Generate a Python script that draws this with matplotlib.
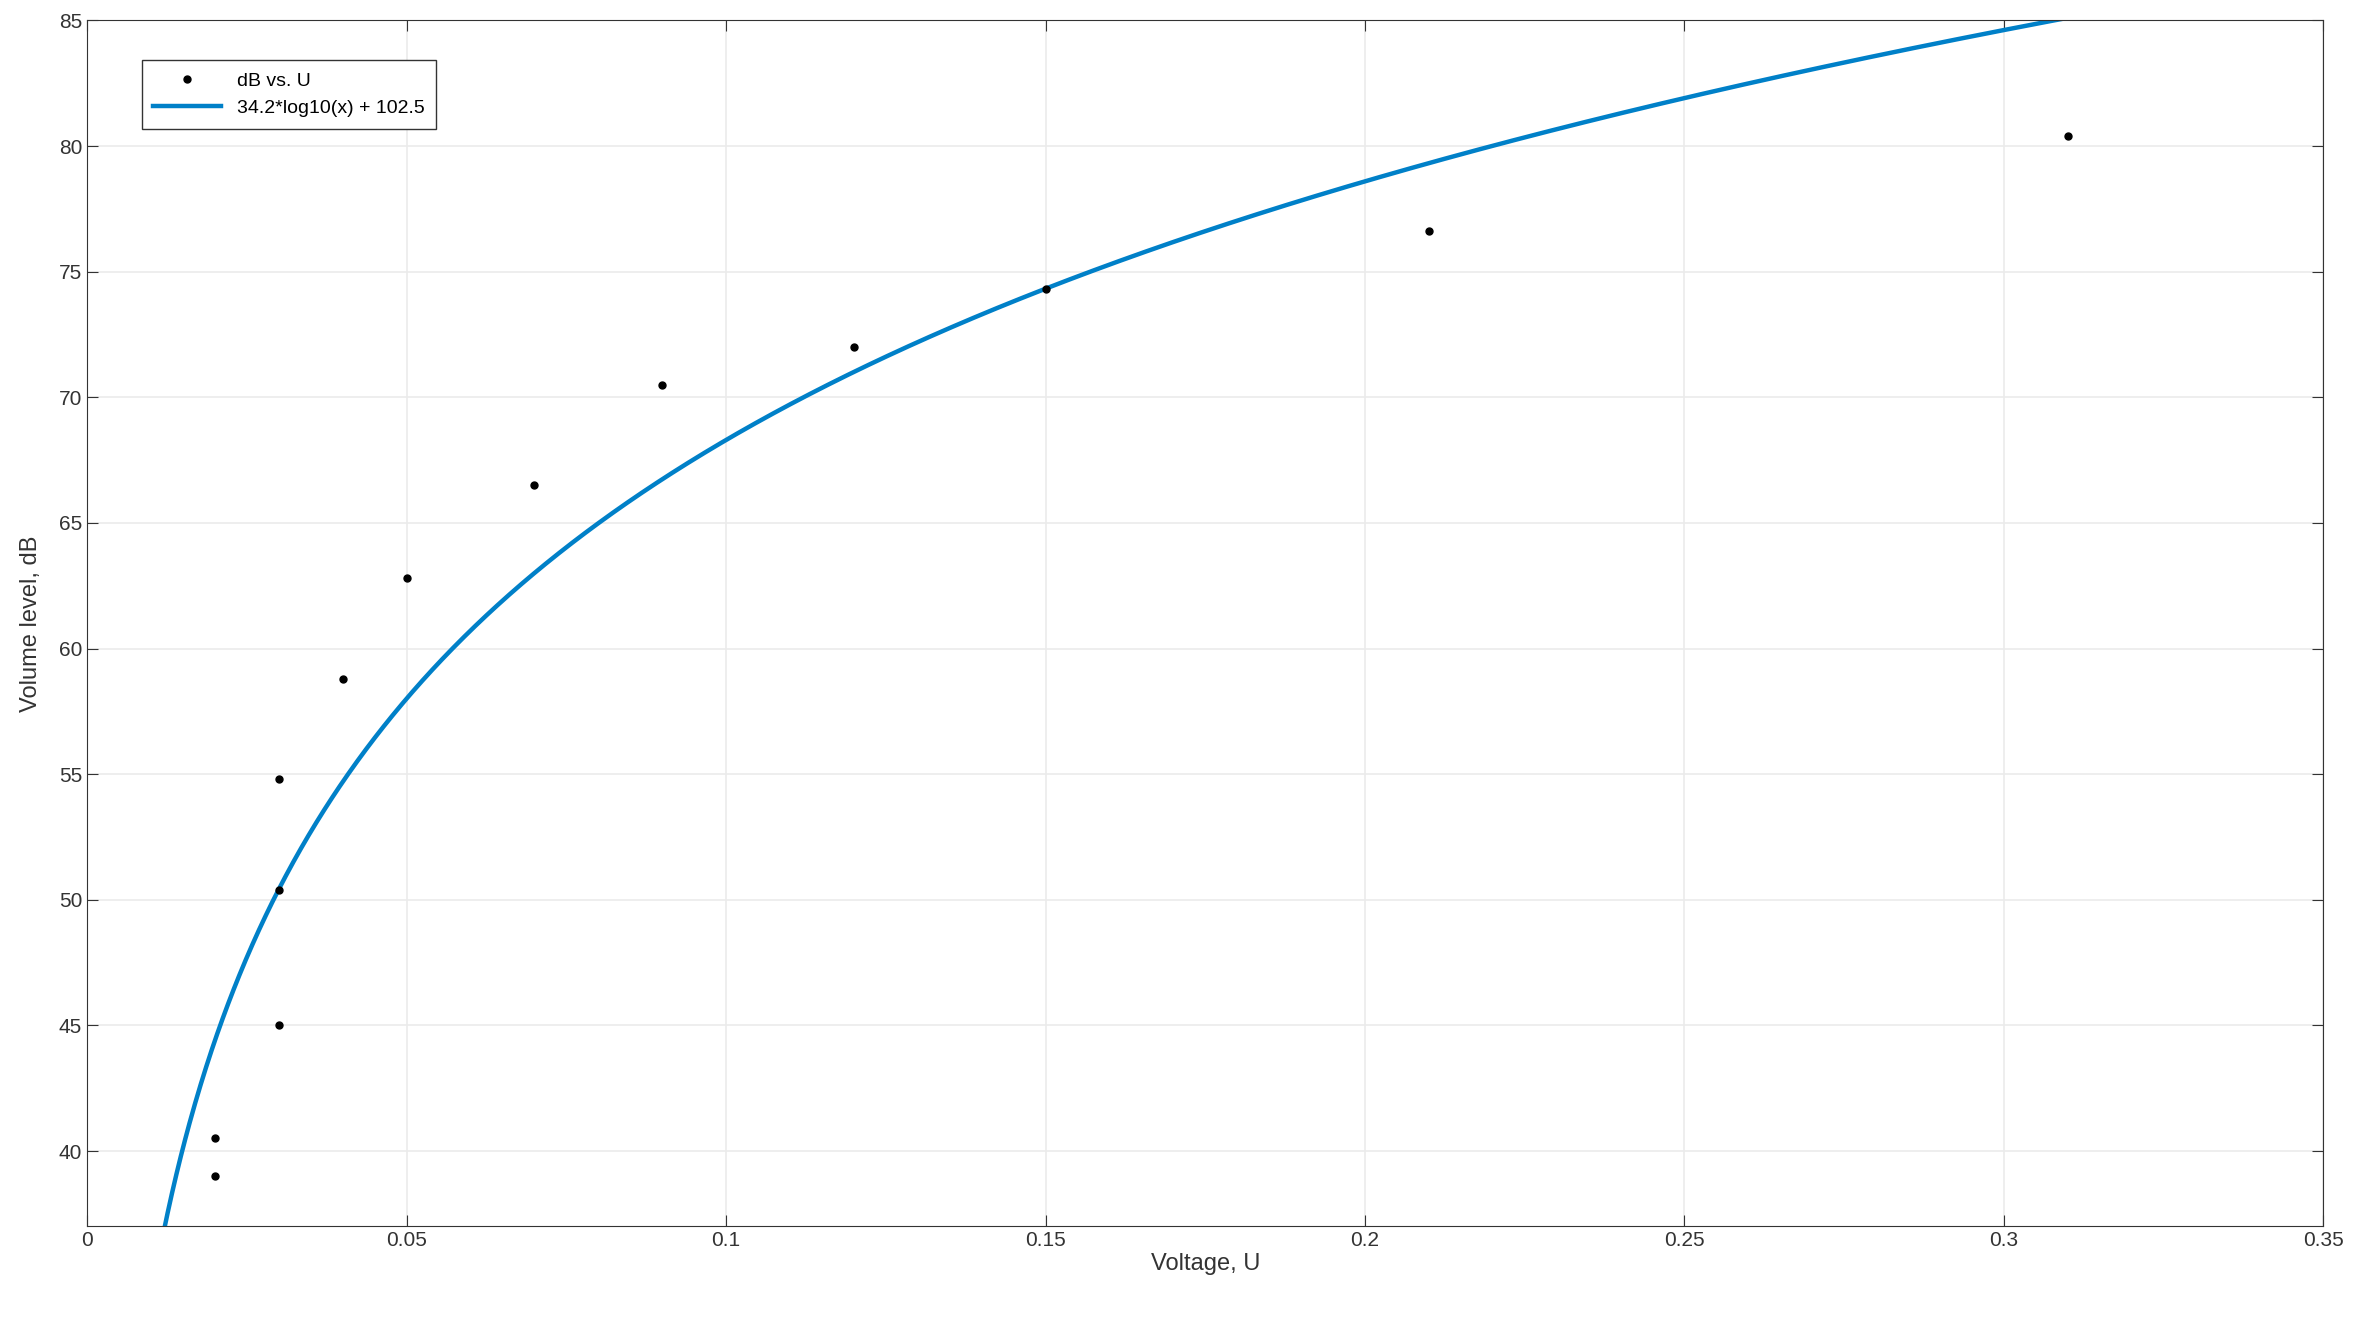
import numpy as np
import matplotlib
matplotlib.use("Agg")
import matplotlib.pyplot as plt

U = [0.02, 0.02, 0.03, 0.03, 0.03, 0.04, 0.05, 0.07, 0.09, 0.12, 0.15, 0.21, 0.31]
dB = [40.5, 39.0, 54.8, 50.4, 45.0, 58.8, 62.8, 66.5, 70.5, 72.0, 74.3, 76.6, 80.4]
fit_a, fit_b = 34.2, 102.5
xticks = [0, 0.05, 0.1, 0.15, 0.2, 0.25, 0.3, 0.35]
xticklabels = ["0", "0.05", "0.1", "0.15", "0.2", "0.25", "0.3", "0.35"]
yticks = [40, 45, 50, 55, 60, 65, 70, 75, 80, 85]

plt.rcParams['font.family'] = ['Liberation Sans', 'DejaVu Sans']
fig = plt.figure(figsize=(23.54, 13.18), dpi=100)
ax = fig.add_axes([0.037, 0.0695, 0.950, 0.915])

xf = np.linspace(0.005, 0.35, 2000)
ax.plot(U, dB, 'o', color='black', markersize=5, label='dB vs. U', zorder=3)
ax.plot(xf, fit_a * np.log10(xf) + fit_b, color='#0080c8', lw=3.2,
        label='34.2*log10(x) + 102.5', zorder=2)

ax.set_xlim(0, 0.35)
ax.set_ylim(37, 85)
ax.set_xticks(xticks)
ax.set_xticklabels(xticklabels)
ax.set_yticks(yticks)
ax.grid(True, color='#ebebeb', lw=1.2)
ax.tick_params(labelsize=15, colors='#333333', direction='in', length=8, top=True, right=True)
for s in ax.spines.values():
    s.set_color('#333333')
ax.set_xlabel('Voltage, U', fontsize=17, color='#333333', labelpad=2)
ax.set_ylabel('Volume level, dB', fontsize=17, color='#333333', labelpad=12)
leg = ax.legend(loc='upper left', bbox_to_anchor=(0.02, 0.975), fontsize=14,
                fancybox=False, edgecolor='#333333', framealpha=1, handlelength=3.5,
                borderpad=0.6)
fig.savefig('out.png', dpi=100)
